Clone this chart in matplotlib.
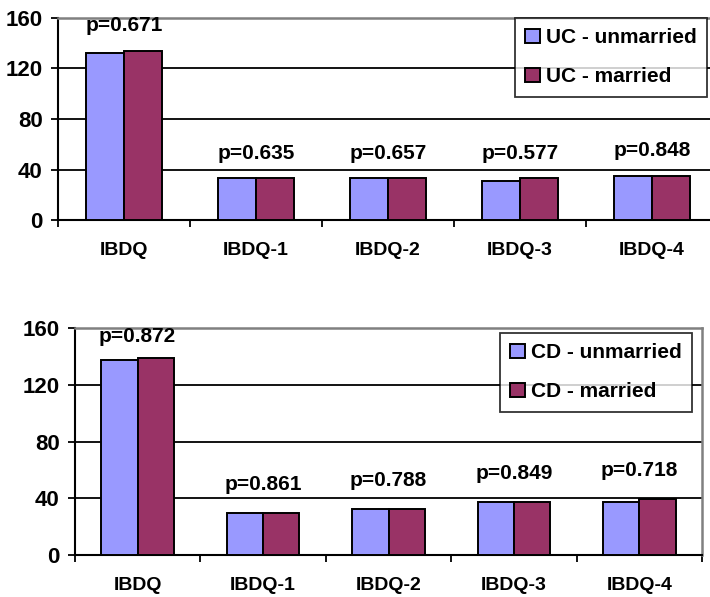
import numpy as np
import matplotlib.pyplot as plt

plt.rcParams['font.family'] = ['Liberation Sans', 'DejaVu Sans']
plt.rcParams['font.weight'] = 'bold'

categories = ['IBDQ', 'IBDQ-1', 'IBDQ-2', 'IBDQ-3', 'IBDQ-4']

uc_unmarried = [132.5, 33.0, 33.0, 31.2, 34.9]
uc_married = [134.0, 33.0, 33.0, 33.0, 34.9]
uc_pvalues = ['p=0.671', 'p=0.635', 'p=0.657', 'p=0.577', 'p=0.848']

cd_unmarried = [137.6, 29.4, 32.2, 37.6, 37.6]
cd_married = [138.8, 29.4, 32.2, 37.6, 39.3]
cd_pvalues = ['p=0.872', 'p=0.861', 'p=0.788', 'p=0.849', 'p=0.718']

yticks = [0, 40, 80, 120, 160]

COLOR_UNMARRIED = '#9999ff'
COLOR_MARRIED = '#993366'
W, H = 710, 597


def draw_panel(fig, rect, unmarried, married, pvalues, prefix, legend_box):
    ax = fig.add_axes(rect)
    x = np.arange(len(categories))
    bw = 0.29
    ax.bar(x - bw / 2, unmarried, bw, color=COLOR_UNMARRIED, edgecolor='black',
           linewidth=1.4, label=prefix + ' - unmarried', zorder=3)
    ax.bar(x + bw / 2, married, bw, color=COLOR_MARRIED, edgecolor='black',
           linewidth=1.4, label=prefix + ' - married', zorder=3)

    # p-value above each group
    for xi, a, b, p in zip(x, unmarried, married, pvalues):
        ypos = min(max(a, b) + 20, 154)
        ax.text(xi, ypos, p, ha='center', va='center', fontsize=15,
                fontweight='bold')

    ax.set_xlim(-0.5, len(categories) - 0.5)
    ax.set_ylim(0, 160)
    ax.set_yticks(yticks)
    ax.yaxis.grid(True, color='black', linewidth=1.3)
    ax.set_axisbelow(True)

    ax.set_xticks(x)
    ax.set_xticklabels(categories, fontsize=14, fontweight='bold')
    ax.set_xticks(np.arange(len(categories) + 1) - 0.5, minor=True)
    ax.tick_params(axis='x', which='major', length=0, pad=16)
    ax.tick_params(axis='x', which='minor', length=5, width=1.3, direction='out')
    ax.tick_params(axis='y', length=5, width=1.3, pad=6, labelsize=16)
    for lbl in ax.get_yticklabels():
        lbl.set_fontweight('bold')

    for side in ('left', 'bottom'):
        ax.spines[side].set_color('black')
        ax.spines[side].set_linewidth(1.5)
    for side in ('top', 'right'):
        ax.spines[side].set_color('#808080')
        ax.spines[side].set_linewidth(1.8)

    leg = fig.legend(*ax.get_legend_handles_labels(), loc='upper left',
                     bbox_to_anchor=legend_box, bbox_transform=fig.transFigure,
                     fontsize=15, frameon=True, fancybox=False, handlelength=0.7,
                     handleheight=0.7, handletextpad=0.3, labelspacing=0.95,
                     borderpad=0.5, borderaxespad=0)
    leg.get_frame().set_edgecolor('black')
    leg.get_frame().set_linewidth(1.3)
    for t in leg.get_texts():
        t.set_fontweight('bold')
    return ax


fig = plt.figure(figsize=(W / 100, H / 100), dpi=100)

draw_panel(fig, [58 / W, 1 - 220 / H, 660 / W, 202 / H],
           uc_unmarried, uc_married, uc_pvalues, 'UC',
           (515 / W, 1 - 18 / H))
draw_panel(fig, [75 / W, 1 - 555 / H, 627 / W, 227 / H],
           cd_unmarried, cd_married, cd_pvalues, 'CD',
           (500 / W, 1 - 333 / H))

fig.savefig('out.png', dpi=100)
